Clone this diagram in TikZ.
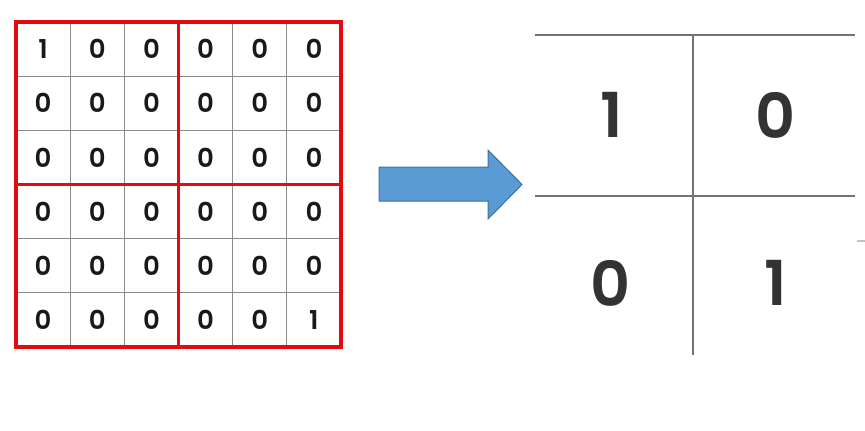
\documentclass[tikz,border=0pt]{standalone}
\usepackage{fontspec}
\setmainfont{Poppins}[UprightFont=* SemiBold]
\definecolor{arrowblue}{RGB}{91,155,213}
\definecolor{arrowedge}{RGB}{65,113,156}
\definecolor{blockred}{RGB}{228,10,16}
\begin{document}
\begin{tikzpicture}[x=1pt,y=-1pt,
    cell/.style={font=\fontsize{26}{26}\selectfont,text=black!90},
    bigcell/.style={font=\fontsize{62}{62}\selectfont,text=black!80},
    thingrid/.style={draw=black!45,line width=1pt},
    block/.style={draw=blockred,line width=3.5pt},
    biggrid/.style={draw=black!55,line width=1.5pt},
    blockarrow/.style={fill=arrowblue,draw=arrowedge,line width=1pt}]
    \useasboundingbox (0,0) rectangle (865,431);
    \foreach \k in {1,...,5} {
        \draw[thingrid] ({16+54.17*\k},22) -- ({16+54.17*\k},347);
        \draw[thingrid] (16,{22+54.17*\k}) -- (341,{22+54.17*\k});
    }
    \foreach \r in {1,...,6}
        \foreach \c in {1,...,6}
            \node[cell] (c\r\c) at ({16+54.17*(\c-0.5)},{22+54.17*(\r-0.5)})
                {\ifnum\r\c=11 1\else\ifnum\r\c=66 1\else 0\fi\fi};
    \foreach \i in {0,1}
        \foreach \j in {0,1}
            \draw[block] ({16+162.5*\i},{22+162.5*\j}) rectangle +(162.5,162.5);
    \draw[blockarrow] (379,167) -- (488,167) -- (488,150) -- (522,184.5)
        -- (488,219) -- (488,201) -- (379,201) -- cycle;
    \draw[biggrid] (535,35) -- (855,35);
    \draw[biggrid] (535,196) -- (855,196);
    \draw[biggrid] (693,35) -- (693,355);
    \draw[draw=blue!15!black!25,line width=1.5pt] (857,241) -- (865,241);
    \node[bigcell] (p11) at (612,115) {1};
    \node[bigcell] (p12) at (776,115) {0};
    \node[bigcell] (p21) at (611,283) {0};
    \node[bigcell] (p22) at (776,283) {1};
\end{tikzpicture}
\end{document}
